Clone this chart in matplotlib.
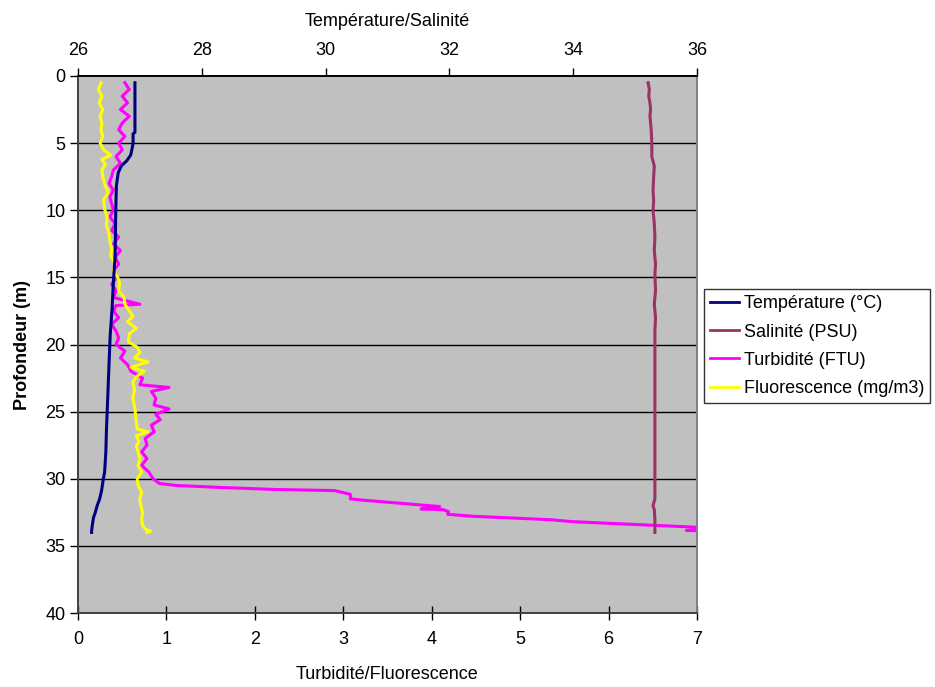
import matplotlib
matplotlib.use("Agg")
import matplotlib.pyplot as plt
from matplotlib.lines import Line2D

plt.rcParams['font.family'] = ['Liberation Sans', 'DejaVu Sans']
plt.rcParams['font.size'] = 13

# --- CTD profile data (depth in m) ---
temp_depth = [0.5, 4.2, 4.3, 5.0, 5.5, 5.9, 6.3, 6.7, 7.2, 8.2, 10.0, 13.4, 15.5,
              17.4, 19.3, 21.6, 24.0, 26.3, 28.0, 29.5, 30.0, 30.9, 31.5, 32.0,
              32.5, 32.9, 33.5, 33.9, 34.0]
temp_val = [26.92, 26.92, 26.89, 26.89, 26.87, 26.85, 26.79, 26.70, 26.65, 26.62,
            26.61, 26.60, 26.57, 26.55, 26.52, 26.50, 26.48, 26.46, 26.45, 26.43,
            26.41, 26.38, 26.35, 26.31, 26.28, 26.25, 26.23, 26.22, 26.22]

sal_depth = [0.5, 1.0, 1.5, 2.0, 2.5, 3.0, 4.0, 5.0, 6.0, 6.7, 7.5, 8.5, 9.3, 10.0,
             11.0, 12.0, 13.0, 14.0, 14.8, 16.0, 17.0, 18.0, 19.0, 20.0, 25.0,
             28.0, 30.0, 31.5, 32.0, 32.3, 33.0, 34.0]
sal_val = [35.21, 35.23, 35.22, 35.24, 35.25, 35.24, 35.26, 35.27, 35.27, 35.31,
           35.30, 35.29, 35.30, 35.29, 35.31, 35.32, 35.31, 35.33, 35.32, 35.33,
           35.31, 35.33, 35.32, 35.32, 35.32, 35.32, 35.32, 35.32, 35.29, 35.31,
           35.32, 35.32]

turb_depth = [0.5, 1.0, 1.5, 2.0, 2.5, 3.0, 3.5, 4.0, 4.5, 5.0, 5.5, 6.0, 6.5, 7.0,
              7.5, 8.0, 8.5, 9.0, 9.5, 10.0, 10.5, 11.0, 11.5, 12.0, 12.5, 13.0,
              13.5, 14.0, 14.5, 15.0, 15.5, 16.0, 16.5, 17.0, 17.1, 17.5, 18.0,
              18.5, 19.0, 19.5, 20.0, 20.5, 21.0, 21.5, 22.0, 22.5, 23.0, 23.2,
              23.5, 24.0, 24.5, 24.8, 25.2, 25.6, 26.0, 26.5, 27.0, 27.5, 28.0,
              28.5, 29.0, 29.5, 30.0, 30.35, 30.5, 30.65, 30.8, 30.88, 31.16,
              31.5, 31.6, 32.07, 32.25, 32.3, 32.45, 32.65, 32.8, 33.05, 33.2,
              33.4, 33.6, 33.75, 33.85, 33.9]
turb_val = [0.53, 0.58, 0.50, 0.56, 0.48, 0.58, 0.50, 0.46, 0.53, 0.46, 0.50, 0.43,
            0.48, 0.40, 0.38, 0.35, 0.40, 0.36, 0.38, 0.40, 0.36, 0.42, 0.38, 0.46,
            0.40, 0.48, 0.42, 0.46, 0.40, 0.44, 0.38, 0.43, 0.40, 0.70, 0.43, 0.40,
            0.46, 0.38, 0.43, 0.46, 0.43, 0.53, 0.48, 0.56, 0.60, 0.73, 0.70, 1.03,
            0.83, 0.88, 0.86, 1.03, 0.88, 0.93, 0.83, 0.86, 0.76, 0.78, 0.72, 0.78,
            0.72, 0.80, 0.85, 0.92, 1.11, 1.62, 2.24, 2.90, 3.08, 3.08, 3.23, 4.09,
            3.88, 4.13, 4.19, 4.18, 4.48, 5.34, 5.60, 6.28, 6.96, 7.30, 6.88, 7.30]

fluo_depth = [0.5, 1.0, 1.5, 2.0, 2.5, 3.0, 3.5, 4.0, 4.5, 5.0, 5.5, 5.9, 6.2, 6.6,
              7.0, 7.5, 8.0, 8.7, 9.2, 9.9, 10.5, 11.1, 11.7, 12.3, 12.9, 13.4,
              14.0, 14.5, 15.0, 15.4, 16.0, 16.5, 17.0, 17.5, 17.9, 18.3, 18.8,
              19.2, 19.8, 20.2, 20.6, 21.0, 21.3, 21.7, 22.0, 22.4, 22.8, 23.4,
              24.0, 24.6, 25.2, 25.8, 26.3, 26.5, 26.8, 27.2, 27.6, 28.0, 28.5,
              29.0, 29.5, 30.0, 30.5, 31.0, 31.5, 32.0, 32.5, 33.0, 33.5, 33.8,
              33.9, 34.0]
fluo_val = [0.26, 0.23, 0.27, 0.24, 0.28, 0.25, 0.27, 0.26, 0.28, 0.25, 0.29, 0.37,
            0.27, 0.31, 0.27, 0.28, 0.30, 0.34, 0.29, 0.30, 0.33, 0.32, 0.35, 0.36,
            0.38, 0.37, 0.42, 0.40, 0.45, 0.47, 0.46, 0.52, 0.53, 0.58, 0.62, 0.56,
            0.66, 0.58, 0.57, 0.67, 0.70, 0.64, 0.79, 0.60, 0.75, 0.66, 0.62, 0.64,
            0.62, 0.64, 0.65, 0.66, 0.67, 0.79, 0.66, 0.69, 0.66, 0.68, 0.70, 0.68,
            0.72, 0.67, 0.68, 0.72, 0.70, 0.71, 0.73, 0.72, 0.73, 0.77, 0.82, 0.78]

depth_ticks = [0, 5, 10, 15, 20, 25, 30, 35, 40]
bottom_ticks = [0, 1, 2, 3, 4, 5, 6, 7]
top_ticks = [26, 28, 30, 32, 34, 36]

c_temp = '#000080'
c_sal = '#993366'
c_turb = '#FF00FF'
c_fluo = '#FFFF00'

fig = plt.figure(figsize=(9.35, 6.87), dpi=100)
ax = fig.add_axes([78 / 935, 1 - 613 / 687, (697 - 78) / 935, (613 - 76) / 687])
ax.set_facecolor('#C0C0C0')

# horizontal gridlines
for d in depth_ticks[1:-1]:
    ax.axhline(d, color='black', lw=1.0, zorder=1)

# bottom axis: turbidity / fluorescence
ax.plot(turb_val, turb_depth, color=c_turb, lw=2.2, zorder=3)
ax.plot(fluo_val, fluo_depth, color=c_fluo, lw=2.2, zorder=3)
ax.set_xlim(0, 7)
ax.set_ylim(40, 0)
ax.set_xticks(bottom_ticks)
ax.set_yticks(depth_ticks)
ax.tick_params(axis='x', direction='inout', length=10, width=1, pad=8)
ax.tick_params(axis='y', direction='out', length=6, width=1, pad=3)
ax.set_xlabel('Turbidité/Fluorescence', labelpad=13)
ax.set_ylabel('Profondeur (m)', fontweight='bold', labelpad=10)

# top axis: temperature / salinity
ax2 = ax.twiny()
ax2.plot(temp_val, temp_depth, color=c_temp, lw=2.2, zorder=4)
ax2.plot(sal_val, sal_depth, color=c_sal, lw=2.2, zorder=4)
ax2.set_xlim(26, 36)
ax2.set_ylim(40, 0)
ax2.set_xticks(top_ticks)
ax2.tick_params(axis='x', direction='out', length=6, width=1, pad=6)
ax2.set_xlabel('Température/Salinité', labelpad=12)

for a in (ax, ax2):
    a.spines['left'].set_color('#404040')
    a.spines['bottom'].set_color('#404040')
    a.spines['top'].set_color('black')
    a.spines['right'].set_color('#808080')
    for s in a.spines.values():
        s.set_linewidth(1.2)

handles = [Line2D([], [], color=c_temp, lw=2),
           Line2D([], [], color=c_sal, lw=2),
           Line2D([], [], color=c_turb, lw=2),
           Line2D([], [], color=c_fluo, lw=2)]
labels = ['Température (°C)', 'Salinité (PSU)', 'Turbidité (FTU)',
          'Fluorescence (mg/m3)']
leg = fig.legend(handles, labels, loc='upper left',
                 bbox_to_anchor=(704 / 935, 1 - 289 / 687),
                 frameon=True, fancybox=False, edgecolor='black',
                 handlelength=1.6, handletextpad=0.25, borderpad=0.35,
                 labelspacing=0.62, borderaxespad=0, fontsize=13)
leg.get_frame().set_linewidth(1.0)

fig.savefig('out.png', dpi=100)
